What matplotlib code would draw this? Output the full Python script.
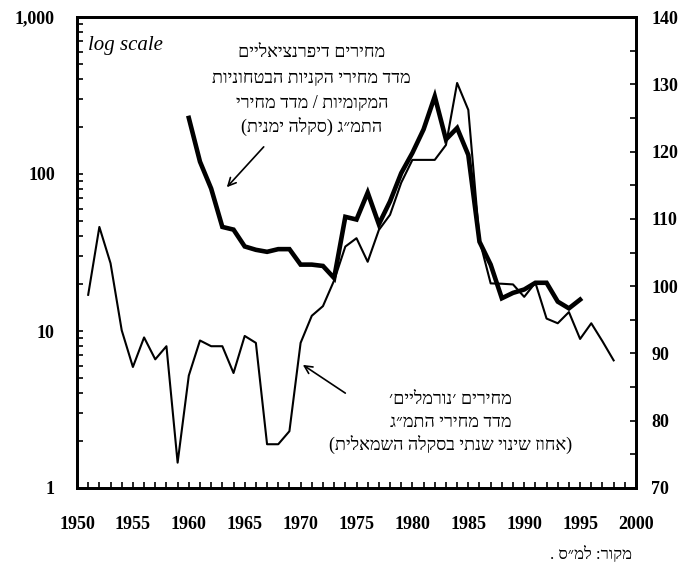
import matplotlib
matplotlib.use("Agg")
import matplotlib.pyplot as plt
from matplotlib.ticker import FixedLocator, MultipleLocator, NullFormatter

# annual % change of GDP price index (left, log scale)
years_normal = list(range(1951, 1999))
normal_change = [17, 46, 27, 10.1, 5.9, 9.1, 6.6, 8.0, 1.45, 5.2,
                 8.7, 8.0, 8.0, 5.4, 9.3, 8.4, 1.9, 1.9, 2.3, 8.4,
                 12.5, 14.4, 21, 34.5, 39, 27.6, 44, 55, 88, 123,
                 123, 123, 153, 380, 256, 38, 20.1, 20, 19.8, 16.5,
                 20.3, 12.0, 11.2, 13.2, 8.9, 11.2, 8.6, 6.5]

# defence procurement prices / GDP prices (right scale)
years_diff = list(range(1960, 1996))
diff_prices = [125, 118.5, 114.5, 108.8, 108.4, 105.9, 105.4, 105.1, 105.5, 105.5,
               103.2, 103.2, 103.0, 101.2, 110.3, 109.9, 113.9, 109.2, 112.6, 116.8,
               119.8, 123.3, 128.2, 121.8, 123.5, 119.5, 106.6, 103.2, 98.2, 99.0,
               99.5, 100.5, 100.5, 97.7, 96.7, 98.0]

left_ticks = [1, 10, 100, 1000]
left_labels = ["1", "10", "100", "1,000"]
x_ticks = list(range(1950, 2001, 5))

upper_note = ["מחירים דיפרנציאליים",
              "מדד מחירי הקניות הבטחוניות",
              "המקומיות / מדד מחירי",
              "התמ״ג (סקלה ימנית)"]
lower_note = ["מחירים ׳נורמליים׳",
              "מדד מחירי התמ״ג",
              "(אחוז שינוי שנתי בסקלה השמאלית)"]
source_note = "מקור: למ״ס ."


def rtl(s):
    # matplotlib has no bidi, so flip Hebrew to visual order
    swap = {'(': ')', ')': '('}
    return ''.join(swap.get(c, c) for c in reversed(s))


serif = ['Liberation Serif', 'DejaVu Serif', 'DejaVu Sans']
plt.rcParams['font.family'] = serif

fig = plt.figure(figsize=(6.81, 5.67), dpi=100)
ax = fig.add_axes([77 / 681, 1 - 488 / 567, (636 - 77) / 681, (488 - 17) / 567])
ax2 = ax.twinx()

ax.plot(years_normal, normal_change, color='black', lw=1.5, zorder=3)
ax.set_yscale('log')
ax.set_ylim(1, 1000)
ax.set_xlim(1950, 2000)

ax2.plot(years_diff, diff_prices, color='black', lw=3.3, solid_joinstyle='miter', zorder=4)
ax2.set_ylim(70, 140)

for a in (ax, ax2):
    for sp in a.spines.values():
        sp.set_linewidth(2)

ax.xaxis.set_major_locator(FixedLocator(x_ticks))
ax.xaxis.set_minor_locator(MultipleLocator(1))
ax.tick_params(axis='x', which='both', direction='in', length=4.5, width=1.2, pad=20)
ax.set_xticklabels([str(y) for y in x_ticks], fontsize=13, fontweight='bold')

ax.yaxis.set_major_locator(FixedLocator(left_ticks))
ax.set_yticklabels(left_labels, fontsize=13, fontweight='bold')
ax.yaxis.set_minor_formatter(NullFormatter())
ax.tick_params(axis='y', which='both', direction='in', length=4.5, width=1.2, pad=16)

ax2.yaxis.set_major_locator(MultipleLocator(10))
ax2.yaxis.set_minor_locator(MultipleLocator(5))
ax2.tick_params(axis='y', which='both', direction='in', length=4.5, width=1.2, pad=11)
for lab in ax2.get_yticklabels():
    lab.set_fontsize(13)
    lab.set_fontweight('bold')

ax2.text(1951.0, 135.7, "log scale", fontsize=15, style='italic', ha='left', va='center')

for txt, yv in zip(upper_note, [134.65, 130.9, 127.2, 123.7]):
    ax2.text(1971.0, yv, rtl(txt), fontsize=13, ha='center', va='center')
for txt, yv in zip(lower_note, [83.1, 79.7, 76.4]):
    ax2.text(1983.4, yv, rtl(txt), fontsize=13, ha='center', va='center')

arrow = dict(arrowstyle='->', color='black', lw=1.2, shrinkA=0, shrinkB=0,
             mutation_scale=14)
ax2.annotate('', xy=(1963.4, 114.7), xytext=(1966.7, 120.7), arrowprops=arrow)
ax2.annotate('', xy=(1970.2, 88.3), xytext=(1974.0, 84.1), arrowprops=arrow)

fig.text(632 / 681, 1 - 554 / 567, rtl(source_note), fontsize=12, ha='right', va='center')

fig.savefig('out.png', dpi=100)
